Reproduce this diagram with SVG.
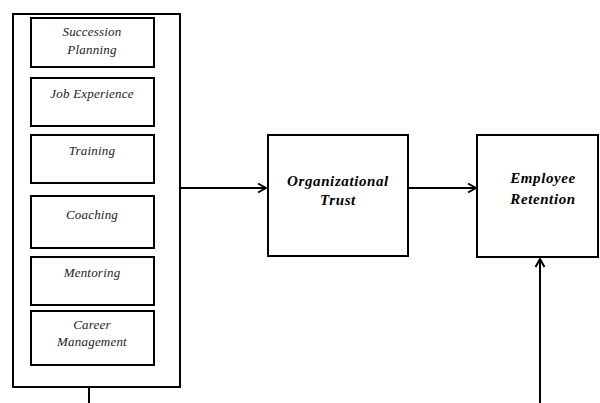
<svg xmlns="http://www.w3.org/2000/svg" width="600" height="403" viewBox="0 0 600 403">
<defs>
<style>
.box{fill:#fff;stroke:#000;stroke-width:2}
.in{font-family:"Liberation Serif",serif;font-style:italic;font-size:13px;letter-spacing:0.2px;fill:#222;text-anchor:middle}
.main{font-family:"Liberation Serif",serif;font-style:italic;font-weight:bold;font-size:15px;letter-spacing:0.6px;fill:#000;text-anchor:middle}
.con{fill:none;stroke:#000;stroke-width:2}
</style>
<marker id="arr" viewBox="0 0 12 12" refX="11" refY="6" markerWidth="12" markerHeight="12" markerUnits="userSpaceOnUse" orient="auto">
<polyline points="3,1.5 11,6 3,10.5" fill="none" stroke="#000" stroke-width="2"/>
</marker>
</defs>
<rect width="600" height="403" fill="#fff"/>
<g id="hr-practices">
<rect class="box" x="13" y="14" width="167" height="373"/>
<g id="succession"><rect class="box" x="31" y="18" width="123" height="49"/><text class="in" x="92" y="36">Succession</text><text class="in" x="92" y="54">Planning</text></g>
<g id="job-experience"><rect class="box" x="31" y="78" width="123" height="48"/><text class="in" x="92" y="98">Job Experience</text></g>
<g id="training"><rect class="box" x="31" y="135" width="123" height="48"/><text class="in" x="92" y="155">Training</text></g>
<g id="coaching"><rect class="box" x="31" y="196" width="123" height="52"/><text class="in" x="92" y="219">Coaching</text></g>
<g id="mentoring"><rect class="box" x="31" y="257" width="123" height="48"/><text class="in" x="92" y="277">Mentoring</text></g>
<g id="career"><rect class="box" x="31" y="311" width="123" height="54"/><text class="in" x="92" y="329">Career</text><text class="in" x="92" y="346">Management</text></g>
</g>
<g id="org-trust"><rect class="box" x="268" y="135" width="140" height="121"/><text class="main" x="338" y="186">Organizational</text><text class="main" x="338" y="205">Trust</text></g>
<g id="employee-retention"><rect class="box" x="477" y="135" width="121" height="122"/><text class="main" x="543" y="183">Employee</text><text class="main" x="543" y="204">Retention</text></g>
<g id="connectors">
<line class="con" x1="181" y1="188" x2="266" y2="188" marker-end="url(#arr)"/>
<line class="con" x1="409" y1="188" x2="476" y2="188" marker-end="url(#arr)"/>
<polyline class="con" points="89,388 89,412 540,412 540,259" marker-end="url(#arr)"/>
</g>
</svg>
